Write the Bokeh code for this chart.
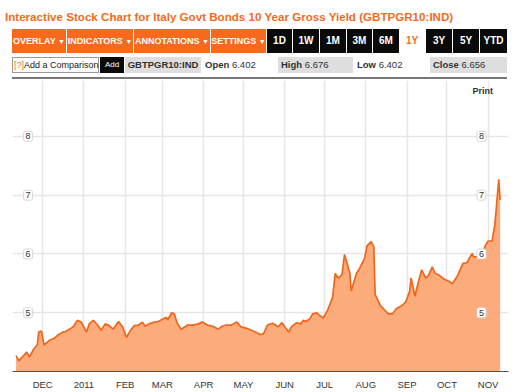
import pandas as pd
from bokeh.plotting import figure
from bokeh.layouts import column
from bokeh.models import (Div, Range1d, FixedTicker, Grid, Label, ColumnDataSource)
from bokeh.embed import file_html
from bokeh.resources import INLINE

# ---------------- data ----------------
DATES = [
    "2010-11-11", "2010-11-13", "2010-11-15", "2010-11-19", "2010-11-21", "2010-11-24",
    "2010-11-27", "2010-11-28", "2010-11-30", "2010-12-02", "2010-12-06", "2010-12-10",
    "2010-12-13", "2010-12-16", "2010-12-18", "2010-12-22", "2010-12-24", "2010-12-27",
    "2010-12-30", "2011-01-03", "2011-01-05", "2011-01-08", "2011-01-11", "2011-01-14",
    "2011-01-17", "2011-01-20", "2011-01-23", "2011-01-27", "2011-01-30", "2011-02-02",
    "2011-02-05", "2011-02-08", "2011-02-11", "2011-02-14", "2011-02-16", "2011-02-19",
    "2011-02-23", "2011-02-26", "2011-03-02", "2011-03-04", "2011-03-05", "2011-03-08",
    "2011-03-10", "2011-03-12", "2011-03-15", "2011-03-18", "2011-03-20", "2011-03-24",
    "2011-03-28", "2011-03-31", "2011-04-04", "2011-04-08", "2011-04-12", "2011-04-15",
    "2011-04-18", "2011-04-22", "2011-04-26", "2011-04-29", "2011-05-04", "2011-05-09",
    "2011-05-14", "2011-05-16", "2011-05-19", "2011-05-23", "2011-05-27", "2011-05-30",
    "2011-06-01", "2011-06-04", "2011-06-06", "2011-06-10", "2011-06-13", "2011-06-15",
    "2011-06-17", "2011-06-20", "2011-06-22", "2011-06-25", "2011-06-27", "2011-06-30",
    "2011-07-03", "2011-07-07", "2011-07-09", "2011-07-11", "2011-07-14", "2011-07-16",
    "2011-07-20", "2011-07-21", "2011-07-25", "2011-07-27", "2011-07-31", "2011-08-02",
    "2011-08-05", "2011-08-07", "2011-08-08", "2011-08-12", "2011-08-15", "2011-08-18",
    "2011-08-21", "2011-08-24", "2011-08-28", "2011-08-31", "2011-09-03", "2011-09-04",
    "2011-09-07", "2011-09-09", "2011-09-12", "2011-09-15", "2011-09-17", "2011-09-20",
    "2011-09-22", "2011-09-25", "2011-09-29", "2011-10-03", "2011-10-05", "2011-10-09",
    "2011-10-13", "2011-10-16", "2011-10-20", "2011-10-21", "2011-10-25", "2011-10-27",
    "2011-10-30", "2011-11-01", "2011-11-04", "2011-11-06", "2011-11-07", "2011-11-09",
    "2011-11-10",
]
YIELDS = [
    4.27, 4.18, 4.23, 4.33, 4.25, 4.37,
    4.46, 4.67, 4.69, 4.45, 4.53, 4.57,
    4.63, 4.67, 4.68, 4.73, 4.76, 4.87,
    4.84, 4.67, 4.81, 4.87, 4.80, 4.70,
    4.81, 4.78, 4.72, 4.85, 4.76, 4.58,
    4.70, 4.78, 4.79, 4.84, 4.77, 4.81,
    4.84, 4.85, 4.90, 4.92, 4.88, 5.00,
    4.98, 4.83, 4.72, 4.76, 4.79, 4.79,
    4.81, 4.84, 4.79, 4.77, 4.72, 4.77,
    4.79, 4.79, 4.84, 4.76, 4.73, 4.68,
    4.63, 4.64, 4.79, 4.82, 4.76, 4.83,
    4.76, 4.67, 4.76, 4.83, 4.81, 4.87,
    4.85, 4.90, 4.98, 5.00, 4.96, 4.91,
    5.03, 5.26, 5.67, 5.59, 5.64, 5.99,
    5.67, 5.37, 5.67, 5.74, 5.92, 6.14,
    6.21, 6.12, 5.31, 5.12, 5.05, 4.98,
    4.98, 5.07, 5.12, 5.18, 5.37, 5.59,
    5.28, 5.48, 5.73, 5.59, 5.63, 5.78,
    5.67, 5.64, 5.57, 5.53, 5.49, 5.63,
    5.84, 5.85, 6.01, 5.95, 5.95, 5.92,
    6.15, 6.22, 6.22, 6.50, 6.75, 7.27,
    6.92,
]
TICK_DATES = ["2010-12-01", "2011-01-01", "2011-02-01", "2011-03-01", "2011-04-01", "2011-05-01",
              "2011-06-01", "2011-07-01", "2011-08-01", "2011-09-01", "2011-10-01", "2011-11-01"]
TICK_LABELS = ["DEC", "2011", "FEB", "MAR", "APR", "MAY", "JUN", "JUL", "AUG", "SEP", "OCT", "NOV"]
Y_TICKS = [5, 6, 7, 8]

TITLE = "Interactive Stock Chart for Italy Govt Bonds 10 Year Gross Yield (GBTPGR10:IND)"
MENU = ["OVERLAY", "INDICATORS", "ANNOTATIONS", "SETTINGS"]
PERIODS = ["1D", "1W", "1M", "3M", "6M", "1Y", "3Y", "5Y", "YTD"]
TICKER = "GBTPGR10:IND"
OPEN, HIGH, LOW, CLOSE = "6.402", "6.676", "6.402", "6.656"

Y_MIN, Y_MAX = 4.0, 8.95
FONT = "'Liberation Sans', Arial, sans-serif"
ORANGE = "#f26b21"

# ---------------- header (HTML) ----------------
menu_geom = [(12, 54), (67, 66), (134, 76), (211, 55)]
period_geom = [(267, 25), (293, 26), (320, 26), (347, 25), (373, 26), (400, 24), (426, 26), (453, 26), (480, 27)]

parts = [f'<div style="position:relative;width:525px;height:80px;font-family:{FONT};">']
parts.append(f'<div style="position:absolute;left:5px;top:9px;font-size:11.6px;font-weight:bold;'
             f'color:{ORANGE};white-space:nowrap;">{TITLE}</div>')
for name, (l, w) in zip(MENU, menu_geom):
    parts.append(f'<div style="position:absolute;left:{l}px;top:29px;width:{w}px;height:24px;background:#f7691c;'
                 f'color:white;font-size:9px;font-weight:bold;line-height:24px;text-align:center;white-space:nowrap;">'
                 f'{name} <span style="font-size:7px;">&#9660;</span></div>')
for name, (l, w) in zip(PERIODS, period_geom):
    if name == "1Y":
        bg, fg = "white", ORANGE
    else:
        bg, fg = "#0a0a0a", "white"
    parts.append(f'<div style="position:absolute;left:{l}px;top:29px;width:{w}px;height:24px;background:{bg};'
                 f'color:{fg};font-size:10px;font-weight:bold;line-height:24px;text-align:center;">{name}</div>')
# info row
parts.append('<div style="position:absolute;left:12px;top:57px;width:87px;height:16px;box-sizing:border-box;'
             'border:1px solid #999;background:white;font-size:9px;line-height:14px;color:#222;white-space:nowrap;'
             f'padding-left:1px;"><span style="color:{ORANGE};">[?]</span>Add a Comparison</div>')
parts.append('<div style="position:absolute;left:100px;top:57px;width:24px;height:16px;background:#0a0a0a;'
             'color:white;font-size:8px;line-height:16px;text-align:center;">Add</div>')
parts.append(f'<div style="position:absolute;left:125px;top:57px;width:76px;height:16px;background:#dedede;'
             f'color:#333;font-size:9.5px;font-weight:bold;line-height:16px;text-align:center;">{TICKER}</div>')
parts.append(f'<div style="position:absolute;left:205px;top:57px;height:16px;font-size:9.5px;line-height:16px;'
             f'color:#333;white-space:nowrap;"><b>Open</b> {OPEN}</div>')
parts.append(f'<div style="position:absolute;left:278px;top:57px;width:75px;height:16px;background:#dedede;'
             f'font-size:9.5px;line-height:16px;color:#333;padding-left:3px;box-sizing:border-box;white-space:nowrap;">'
             f'<b>High</b> {HIGH}</div>')
parts.append(f'<div style="position:absolute;left:357px;top:57px;height:16px;font-size:9.5px;line-height:16px;'
             f'color:#333;white-space:nowrap;"><b>Low</b> {LOW}</div>')
parts.append(f'<div style="position:absolute;left:430px;top:57px;width:77px;height:16px;background:#dedede;'
             f'font-size:9.5px;line-height:16px;color:#333;padding-left:3px;box-sizing:border-box;white-space:nowrap;">'
             f'<b>Close</b> {CLOSE}</div>')
parts.append('<div style="position:absolute;left:12px;top:77px;width:495px;height:2px;background:#777;"></div>')
parts.append('</div>')
header = Div(text="".join(parts), width=525, height=80, margin=0)

# ---------------- chart ----------------
dates = pd.to_datetime(DATES)
src = ColumnDataSource(data=dict(date=dates, yld=YIELDS, base=[Y_MIN] * len(YIELDS)))

p = figure(width=525, height=312, x_axis_type="datetime", y_axis_location=None,
           output_backend="svg", toolbar_location=None,
           x_range=Range1d(pd.Timestamp("2010-11-08 07:00"), pd.Timestamp("2011-11-16 07:00")),
           y_range=Range1d(Y_MIN, Y_MAX),
           min_border_left=12, min_border_right=17, min_border_top=0, min_border_bottom=15,
           background_fill_color="white", border_fill_color="white", margin=0)
p.outline_line_color = None
p.ygrid.visible = False

tick_ms = [int(pd.Timestamp(d).value // 10**6) for d in TICK_DATES]
p.xaxis.ticker = FixedTicker(ticks=tick_ms)
p.xaxis.major_label_overrides = {t: lab for t, lab in zip(tick_ms, TICK_LABELS)}
p.xaxis.major_tick_line_color = None
p.xaxis.minor_tick_line_color = None
p.xaxis.axis_line_color = "#555555"
p.xaxis.axis_line_width = 1.2
p.xaxis.major_label_text_font = "Liberation Sans"
p.xaxis.major_label_text_font_size = "9.5px"
p.xaxis.major_label_text_color = "#333333"
p.xaxis.major_label_standoff = 1
p.xgrid.grid_line_color = "#e6e6e6"
p.xgrid.grid_line_width = 1.5

hgrid = Grid(dimension=1, ticker=FixedTicker(ticks=Y_TICKS), grid_line_color="#e6e6e6", grid_line_width=1.5)
p.add_layout(hgrid)

p.varea(x="date", y1="base", y2="yld", source=src, fill_color="#fcab7b", fill_alpha=1.0)
p.line(x="date", y="yld", source=src, line_color="#ef661c", line_width=1.7)

left_x = pd.Timestamp("2010-11-20").value / 1e6
right_x = pd.Timestamp("2011-10-27").value / 1e6
for v in Y_TICKS:
    for xx in (left_x, right_x):
        p.add_layout(Label(x=xx, y=v, text=str(v), text_align="center", text_baseline="middle",
                           text_font="Liberation Sans", text_font_size="9px", text_color="#333333",
                           background_fill_color="white", border_line_color="#d8d8d8",
                           padding=2, border_radius=2))

p.add_layout(Label(x=pd.Timestamp("2011-10-28").value / 1e6, y=8.77, text="Print",
                   text_align="center", text_baseline="middle", text_font="Liberation Sans",
                   text_font_size="9px", text_font_style="bold", text_color="#333333"))

layout = column(header, p, spacing=0, margin=0)
open("out.html", "w").write(file_html(layout, INLINE))
